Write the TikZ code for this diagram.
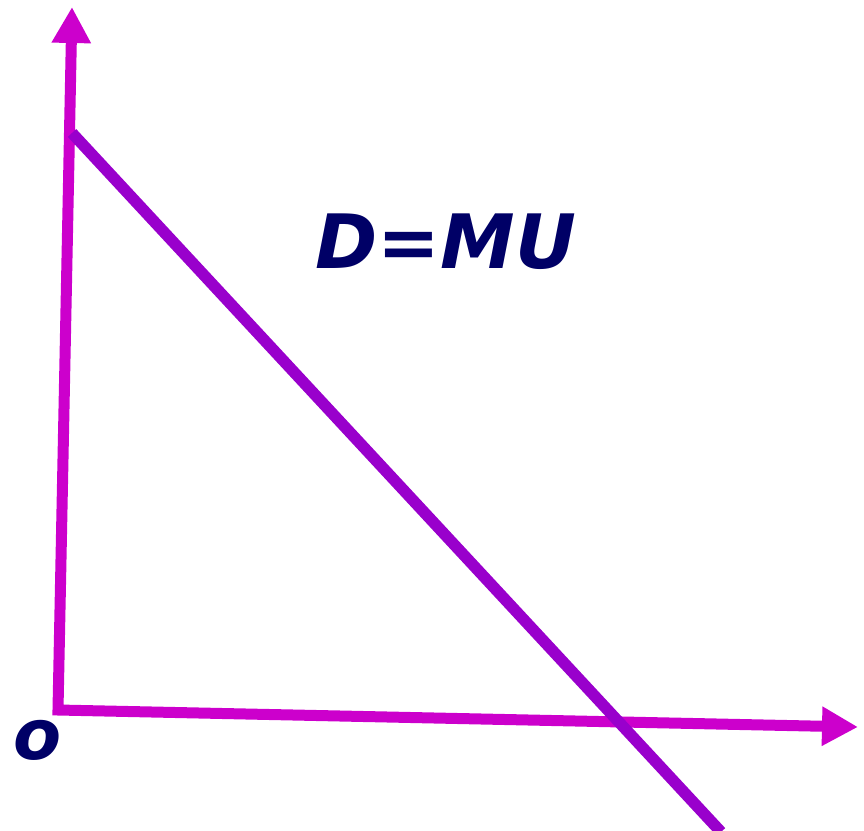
\documentclass[tikz,border=0pt]{standalone}
\usepackage{fontspec}
\setmainfont{DejaVu Sans}
\usetikzlibrary{arrows.meta}
\definecolor{axiscol}{HTML}{CC00CC}
\definecolor{curvecol}{HTML}{9900CC}
\definecolor{textcol}{HTML}{000066}
\tikzset{
  axis/.style={draw=axiscol, line width=11pt, line join=miter,
    {Triangle[length=36pt,width=37pt]}-{Triangle[length=36pt,width=37pt]}},
  curve/.style={draw=curvecol, line width=11.5pt},
  lbl/.style={text=textcol, inner sep=0pt}
}
\begin{document}
\begin{tikzpicture}[x=1pt,y=-1pt]
\useasboundingbox (0,0) rectangle (864,830);
\coordinate (O) at (58,710);
\coordinate (ytop) at (72,7);
\coordinate (xend) at (858,727);
\coordinate (dstart) at (72,133);
\coordinate (dend) at (721,832);
\draw[axis] (ytop) -- (O) -- (xend);
\begin{scope}
\clip (0,0) rectangle (864,830);
\draw[curve] (dstart) -- (dend);
\end{scope}
\node[lbl, font=\fontsize{75}{80}\selectfont\bfseries\itshape] (dmu) at (446,242) {D=MU};
\node[lbl, font=\fontsize{70}{76}\selectfont\bfseries\itshape] (o) at (38,740) {o};
\end{tikzpicture}
\end{document}
